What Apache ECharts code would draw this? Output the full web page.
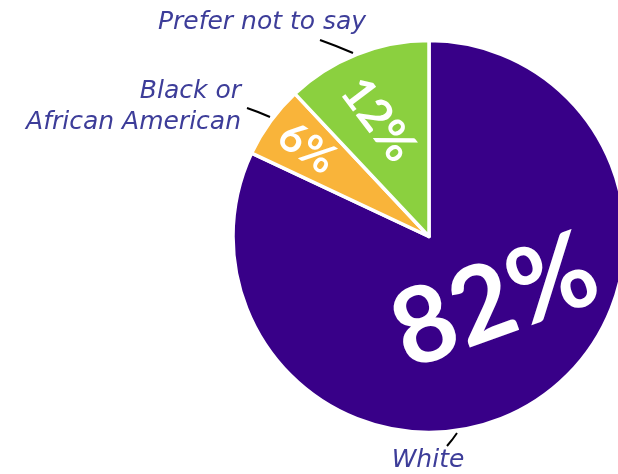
<!DOCTYPE html>
<html>
<head>
<meta charset="utf-8">
<script src="https://cdn.jsdelivr.net/npm/echarts@6/dist/echarts.min.js"></script>
<style>
  html, body { margin: 0; padding: 0; background: #ffffff; }
  #chart { width: 618px; height: 474px; }
</style>
</head>
<body>
<div id="chart"></div>
<script>
// Respondent ethnicity breakdown (percent of respondents)
const categories = ['White', 'Black or\nAfrican American', 'Prefer not to say'];
const values = [82, 6, 12];
const sliceColors = ['#380088', '#F9B43A', '#8BD03F'];

// Label placement for the percentages drawn inside each slice
const innerLabelPos = [
  { x: 495, y: 302, rotate: 20, size: 106 },
  { x: 307, y: 148, rotate: -34, size: 42 },
  { x: 378, y: 120, rotate: -53, size: 46 }
];
// Category name placement and its short leader line
const outerLabelPos = [
  { x: 428, y: 460, align: 'center', line: [[447, 446], [452, 440], [457, 433]] },
  { x: 241, y: 107, align: 'right', line: [[247, 108], [258, 112], [270, 117]] },
  { x: 262, y: 22, align: 'center', line: [[320, 40], [336, 46], [353, 53]] }
];

const center = [429, 236.5];
const radius = 196;

const sliceData = categories.map((name, i) => ({
  name: name,
  value: values[i],
  itemStyle: { color: sliceColors[i] },
  label: { rotate: innerLabelPos[i].rotate, fontSize: innerLabelPos[i].size }
}));

const nameData = categories.map((name, i) => ({ name: name, value: values[i] }));

const chart = echarts.init(document.getElementById('chart'), null, { renderer: 'canvas' });
chart.setOption({
  animation: false,
  backgroundColor: '#ffffff',
  series: [
    {
      type: 'pie',
      center: center,
      radius: radius,
      startAngle: 90,
      clockwise: true,
      data: sliceData,
      itemStyle: { borderColor: '#ffffff', borderWidth: 3.5 },
      label: {
        show: true,
        position: 'inside',
        formatter: '{c}%',
        color: '#ffffff',
        fontFamily: 'Lato',
        fontWeight: 'bold'
      },
      labelLine: { show: false },
      labelLayout: function (p) {
        const pos = innerLabelPos[p.dataIndex];
        return { x: pos.x, y: pos.y, align: 'center', verticalAlign: 'middle' };
      },
      emphasis: { disabled: true },
      silent: true
    },
    {
      type: 'pie',
      center: center,
      radius: radius,
      startAngle: 90,
      clockwise: true,
      data: nameData,
      itemStyle: { color: 'rgba(0,0,0,0)' },
      label: {
        show: true,
        position: 'outside',
        formatter: '{b}',
        color: '#3d3d99',
        fontFamily: 'DejaVu Sans',
        fontStyle: 'italic',
        fontSize: 25,
        lineHeight: 31,
        overflow: 'none',
        width: 300
      },
      labelLine: {
        show: true,
        lineStyle: { color: '#000000', width: 2 }
      },
      labelLayout: function (p) {
        const pos = outerLabelPos[p.dataIndex];
        return {
          x: pos.x, y: pos.y,
          align: pos.align, verticalAlign: 'middle',
          labelLinePoints: pos.line
        };
      },
      emphasis: { disabled: true },
      silent: true,
      z: 3
    }
  ]
});
</script>
</body>
</html>
